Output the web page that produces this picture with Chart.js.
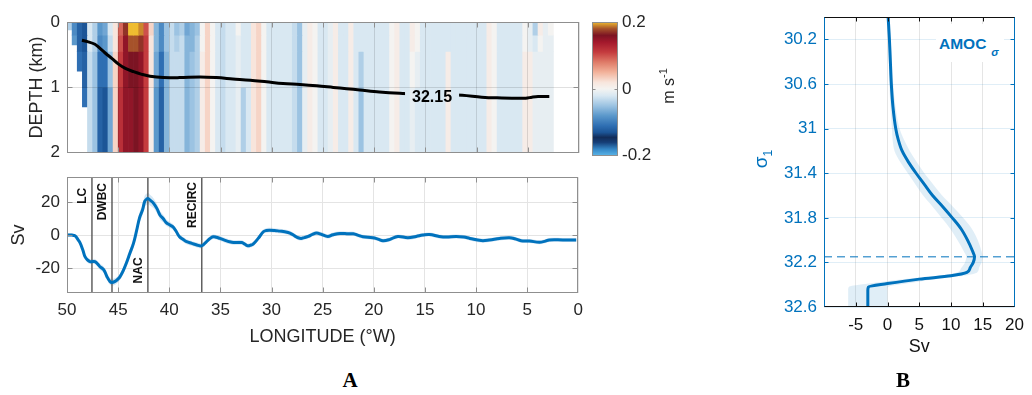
<!DOCTYPE html>
<html><head><meta charset="utf-8">
<script src="https://cdn.jsdelivr.net/npm/chart.js@4/dist/chart.umd.min.js"></script>
<style>
body{margin:0;background:#fff;width:1032px;height:395px;overflow:hidden;position:relative;font-family:'Liberation Sans',Arial,sans-serif;}
canvas{position:absolute;}
.lbl{position:absolute;white-space:nowrap;}
</style></head><body>
<canvas id="heat" width="590" height="170" style="left:0;top:0;width:590px;height:170px"></canvas>
<canvas id="cbar" width="90" height="170" style="left:585px;top:0;width:90px;height:170px"></canvas>
<canvas id="sv" width="590" height="200" style="left:0;top:160px;width:590px;height:200px"></canvas>
<canvas id="amoc" width="292" height="395" style="left:740px;top:0;width:292px;height:395px"></canvas>
<div class="lbl" style="left:639px;top:75px;width:60px;height:22px;line-height:22px;text-align:center;font-size:16px;color:#262626;transform:rotate(-90deg);">m s<span style="font-size:11px;position:relative;top:-7px;">-1</span></div>
<div class="lbl" style="left:736px;top:147px;width:50px;height:24px;line-height:24px;text-align:center;font-size:19px;color:#0072BD;transform:rotate(-90deg);">σ<span style="font-size:12px;position:relative;top:5px;">1</span></div>
<div class="lbl" style="left:936px;top:24px;width:68px;height:38px;background:#fff;">
  <span style="position:absolute;left:3px;top:12px;font-size:15.5px;line-height:15.5px;font-weight:bold;color:#0072BD;">AMOC<span style="font-size:11px;font-style:italic;position:relative;top:7px;margin-left:5px;">σ</span></span>
</div>
<div class="lbl" style="left:330px;top:370px;width:40px;text-align:center;font-family:'Liberation Serif','Times New Roman',serif;font-weight:bold;font-size:21px;line-height:21px;color:#000;">A</div>
<div class="lbl" style="left:883px;top:370px;width:40px;text-align:center;font-family:'Liberation Serif','Times New Roman',serif;font-weight:bold;font-size:21px;line-height:21px;color:#000;">B</div>
<script>
// ---------------- DATA ----------------
// Panel A (top): velocity section, m/s x100 (cm/s), 0.5 deg columns from 50W eastward
const colWidthDeg = 0.5;
const colLon = Array.from({length: 100}, (_, i) => 49.75 - colWidthDeg * i);
const depthEdges = [0, 0.2, 0.45, 1.0, 2.0];
const seafloorWest = [0.12, 0.35, 0.75, 1.3]; // bottom depth of first columns (km)
const velL0 = [-4,-9,-12,-13,-2,-4,-8,-7,-2,2, 9,17,20,20,19,10,3,-6,-9,-5, -3,-5,-4,-7,-6,-5,0,3,0,-2, -3,-2,-2,0,-2,-2,2,3,0,-2,
  -2,-2,-2,-2,-3,-5,-1,1,0,-2, -2,-1,1,-2,-2,1,-2,-2,-2,-2, -2,-2,-2,0,1,-2,-2,1,0,-2, -2,-2,-2,-2,-2,-2,-2,-2,-2,-2,
  -2,-2,1,0,-2,-2,-2,-2,-2,0, -1,-4,1,-1,0,null,null,null,null,null];
const velL1 = [-4,-8,-12,-13,-2,-4,-9,-8,-3,2, 10,15,18,18,17,11,2,-6,-9,-5, -3,-4,-3,-6,-6,-4,0,3,0,-2, -3,-2,-2,-1,-2,-2,2,3,0,-2,
  -2,-2,-2,-2,-3,-5,-1,1,0,-2, -2,-1,1,-2,-2,1,-2,-2,-2,-2, -2,-2,-2,0,1,-2,-2,1,0,-2, -2,-2,-2,-2,-2,-2,-2,-2,-2,-2,
  -2,-2,1,0,-2,-2,-2,-2,-2,0, -1,-2,0,-1,-1,null,null,null,null,null];
const velL2 = [-4,-8,-11,-12,-3,-5,-11,-11,-5,3, 11,15,16,16,15,11,2,-7,-11,-6, -3,-3,-3,-6,-5,-4,1,3,0,-2, -3,-2,-2,-1,-2,-2,2,3,0,-2,
  -2,-2,-2,-2,-3,-5,-1,1,0,-2, -2,-1,1,-2,-2,1,-2,-4,-2,-2, -2,-2,-2,0,1,-2,-2,0,-1,-2, -2,-2,-2,-2,1,-2,-2,-2,-2,-2,
  -2,-2,1,0,-2,-2,-2,-2,-2,1, 1,-1,-1,-1,-1,null,null,null,null,null];
const velL3 = [-4,-8,-10,-11,-3,-5,-12,-13,-7,3, 12,15,15,16,15,11,1,-8,-12,-6, -3,-3,-3,-6,-5,-4,1,3,0,-2, -3,-2,-2,-1,-4,-2,2,3,0,-2,
  -2,-2,-2,-2,-3,-5,-1,1,0,-2, -2,-1,1,-2,-2,1,-2,-5,-2,-2, -2,-2,-2,0,1,-2,-2,-1,-2,-2, -2,-2,-2,-2,1,-2,-2,-2,-2,-2,
  -2,-2,1,0,-2,-2,-2,-2,-2,1, 1,-1,-1,-1,-1,null,null,null,null,null];
const velLayers = [velL0, velL1, velL2, velL3];
// isopycnal 32.15 contour
const contourLon   = [48.54,48.0,47.27,46.8,46.3,45.6,45.0,44.3,43.5,42.7,41.9,40.6,39.0,37.0,35.4,33.8,32.1,30.5,28.9,27.25,25.6,24.0,22.7,21.4,19.5,17.5,15.6,13.2,11.4,9.5,8.0,5.2,4.6,4.0,2.9];
const contourDepth = [0.28,0.30,0.34,0.40,0.47,0.56,0.64,0.71,0.76,0.80,0.83,0.85,0.85,0.84,0.85,0.87,0.89,0.915,0.94,0.955,0.975,1.0,1.02,1.04,1.07,1.09,1.10,1.11,1.12,1.15,1.16,1.165,1.15,1.14,1.14];
const contourLabel = {text: '32.15', lon: 14.35, depth: 1.15};
const depthTicks = [0, 1, 2];
const lonTicks = [50,45,40,35,30,25,20,15,10,5,0];
const cbarTicks = [-0.2, 0, 0.2];

// Panel A (bottom): transport
const lonSv = [50,49.5,49.2,48.9,48.7,48.45,48.24,48.0,47.75,47.5, 47.27,47.0,46.8,46.4,46.1,45.8,45.6,45.3,45.0,44.8,
  44.5,44.2,43.85,43.5,43.2,42.9,42.6,42.4,42.2,42.06, 41.85,41.57,41.2,40.9,40.6,40.3,39.9,39.6,39.3,39.0,
  38.6,38.3,37.8,37.3,36.85,36.6,36.36,36.0,35.7,35.4, 35.06,34.6,34.1,33.7,33.4,32.9,32.6,32.3,32.0,31.8,
  31.3,30.8,30.5,30.2,29.7,29.2,28.7,28.2,27.7,27.4, 27.1,26.8,26.4,26.0,25.6,25.1,24.5,24.0,23.3,22.5,
  22.0,21.5,21.06,20.1,19.6,19.1,18.46,17.65,16.67,15.85, 15.2,14.55,13.6,12.9,11.95,11.2,10.6,9.5,8.7,7.7,
  6.74,6.2,5.6,4.78,3.8,3.3,2.83,1.5,0.2];
const svMean = [0,0,-0.5,-3,-5,-9,-13,-15,-16,-16, -16,-17.5,-19,-21,-25,-28,-28.6,-28,-26.5,-25,
  -21.5,-17,-11,-5,2.5,10.6,15.5,20.4,21.8,22, 21,19.5,16,12,10,7.6,6,4.7,2,-1,
  -2.8,-4,-5,-6,-6.5,-5.5,-4,-2,-1,-1.3, -2,-3,-4,-4.5,-4.5,-4.5,-5.5,-6.5,-6,-5.5,
  -2,2,2.8,3,2.8,2.4,2,1.2,-0.6,-1.6, -2,-1.5,-0.8,0.4,1.2,0.4,-0.8,0.2,1,0.8,
  0.8,-0.2,-1,-1.6,-2.4,-3.4,-2.7,-0.8,-1.6,-0.8, 0,0.4,-0.8,-1.2,-0.8,-1.2,-2,-3.3,-3,-2,
  -1.6,-2.2,-3.4,-3.6,-4.3,-3.8,-2.9,-2.9,-2.9];
const svErr = [1,1,1,1.2,1.2,1.3,1.4,1.5,1.5,1.5, 1.6,1.7,1.8,1.9,2,2,2,2,2,2,
  2.2,2.4,2.6,2.8,3,3.2,3.3,3.4,3.4,3.4, 3.2,3,2.8,2.5,2.3,2,1.8,1.7,1.6,1.5,
  1.5,1.5,1.5,1.5,1.5,1.5,1.4,1.4,1.4,1.4, 1.4,1.4,1.4,1.4,1.4,1.4,1.4,1.4,1.4,1.4,
  1.4,1.4,1.4,1.4,1.4,1.4,1.4,1.4,1.3,1.3, 1.3,1.3,1.3,1.3,1.3,1.3,1.3,1.3,1.3,1.3,
  1.2,1.2,1.2,1.2,1.2,1.2,1.2,1.2,1.2,1.2, 1.2,1.2,1.2,1.2,1.2,1.2,1.2,1.2,1.2,1.2,
  1.2,1.2,1.2,1.2,1.2,1.2,1.2,1.2,1.2];
const svTicks = [-20, 0, 20];
const regionNames = ['LC', 'DWBC', 'NAC', 'RECIRC'];
const regionLon = [47.56, 45.6, 42.09, 36.82];
const regionLabelSv = [28.6, 31.5, -29.2, 32.1];
const regionLabelEnd = ['top', 'top', 'bottom', 'top'];

// Panel B: AMOC in density space
const sigmaAmoc = [30.0,30.2,30.4,30.6,30.8,31.0,31.1,31.2,31.3,31.4,31.5,31.6,31.7,31.8,31.9,32.0,32.1,32.15,32.2,32.25,32.29,32.32,32.35,32.39,32.42,32.45,32.6];
const amocSv    = [0.1,0.3,0.45,0.6,0.85,1.3,1.7,2.3,3.3,4.5,5.8,7.1,8.7,10.2,11.6,12.6,13.4,13.7,13.5,13.0,12.5,10.0,5.0,0.0,-3.0,-3.1,-3.1];
const amocErr   = [0.2,0.2,0.25,0.3,0.4,0.6,0.9,1.2,1.3,1.3,1.4,1.5,1.6,1.7,1.7,1.6,1.4,1.3,1.3,1.4,1.6,2.0,2.5,3.0,3.1,3.1,3.1];
const sigmaMaxOverturning = 32.15;
const sigmaTicks = [30.2, 30.6, 31, 31.4, 31.8, 32.2, 32.6];
const amocTicks = [-5, 0, 5, 10, 15, 20];

// ---------------- STYLE ----------------
const BLUE = '#0072BD';
const GRAY = '#8f8f8f';
const cmapStops = [
 [-0.20,'#5cb6e8'],[-0.18,'#3486c6'],[-0.16,'#163f78'],[-0.145,'#122c58'],[-0.13,'#1c5597'],
 [-0.11,'#2f6fb3'],[-0.08,'#5b98cb'],[-0.05,'#9cc3e2'],[-0.02,'#d9e8f2'],[0,'#f4f3f1'],
 [0.02,'#f8e5dc'],[0.05,'#f2b29a'],[0.08,'#df7b68'],[0.11,'#c43b3e'],[0.14,'#a3182c'],
 [0.16,'#7c1423'],[0.18,'#a6522a'],[0.20,'#efbc30']];
function hex(c){return [parseInt(c.slice(1,3),16),parseInt(c.slice(3,5),16),parseInt(c.slice(5,7),16)];}
function cmap(v){
  if (v <= cmapStops[0][0]) return cmapStops[0][1];
  for (let k = 1; k < cmapStops.length; k++) {
    if (v <= cmapStops[k][0]) {
      const [v0,c0] = cmapStops[k-1], [v1,c1] = cmapStops[k];
      const t = (v - v0) / (v1 - v0), a = hex(c0), b = hex(c1);
      return 'rgb(' + a.map((x,j)=>Math.round(x + (b[j]-x)*t)).join(',') + ')';
    }
  }
  return cmapStops[cmapStops.length-1][1];
}
const fmt = v => String(+Number(v).toFixed(3));
const setTicks = arr => s => { s.ticks = arr.map(v => ({value: v})); };

Chart.defaults.font.family = "'Liberation Sans', Arial, Helvetica, sans-serif";
Chart.defaults.color = '#262626';

const boxPlugin = {
  id: 'boxTicks',
  afterDraw(chart, args, o) {
    if (!o || !o.enabled) return;
    const {ctx, chartArea: a} = chart;
    const xs = chart.scales.x, ys = chart.scales.y, c = o.colors, L = o.len;
    const r = v => Math.round(v) + 0.5;
    ctx.save(); ctx.lineWidth = 1;
    const seg = (col, x1, y1, x2, y2) => { ctx.strokeStyle = col; ctx.beginPath(); ctx.moveTo(x1, y1); ctx.lineTo(x2, y2); ctx.stroke(); };
    const L0 = Math.round(a.left) + 0.5, R0 = Math.round(a.right) - 0.5, T0 = Math.round(a.top) + 0.5, B0 = Math.round(a.bottom) - 0.5;
    if (o.xTicks !== false && xs) xs.ticks.forEach(t => { const p = r(xs.getPixelForValue(t.value)); if (p <= L0 + 1 || p >= R0 - 1) return; seg(c.bottom, p, B0, p, B0 - L); seg(c.top, p, T0, p, T0 + L); });
    if (ys) ys.ticks.forEach(t => { const p = r(ys.getPixelForValue(t.value)); if (p <= T0 + 1 || p >= B0 - 1) return; seg(c.left, L0, p, L0 + L, p); seg(c.right, R0, p, R0 - L, p); });
    seg(c.top, L0 - 0.5, T0, R0 + 0.5, T0); seg(c.bottom, L0 - 0.5, B0, R0 + 0.5, B0);
    seg(c.left, L0, T0, L0, B0); seg(c.right, R0, T0, R0, B0);
    ctx.restore();
  }
};
const regionLabelPlugin = {
  id: 'regionLabels',
  afterDatasetsDraw(chart, args, o) {
    if (!o || !o.items) return;
    const {ctx} = chart, xs = chart.scales.x, ys = chart.scales.y;
    ctx.save();
    ctx.font = 'bold 12px "Liberation Sans", Arial, sans-serif';
    ctx.fillStyle = '#111'; ctx.textBaseline = 'middle';
    o.items.forEach(it => {
      ctx.save();
      ctx.translate(xs.getPixelForValue(it.lon) - o.offset, ys.getPixelForValue(it.sv));
      ctx.rotate(-Math.PI / 2);
      ctx.textAlign = it.end === 'top' ? 'right' : 'left';
      ctx.fillText(it.text, 0, 0);
      ctx.restore();
    });
    ctx.restore();
  }
};
const contourLabelPlugin = {
  id: 'contourLabel',
  _rect(chart, o) {
    const {ctx} = chart;
    ctx.save(); ctx.font = o.font; const w = ctx.measureText(o.text).width; ctx.restore();
    const x = chart.scales.x.getPixelForValue(o.lon), y = chart.scales.y.getPixelForValue(o.depth);
    return {x, y, w};
  },
  beforeDatasetDraw(chart, args, o) {
    if (!o || !o.text || !chart.data.datasets[args.index].contour) return;
    const {x, y, w} = this._rect(chart, o);
    const ctx = chart.ctx;
    ctx.save(); ctx.beginPath();
    ctx.rect(0, 0, chart.width, chart.height);
    ctx.rect(x - w / 2 - 7, y - 14, w + 14, 28);
    ctx.clip('evenodd');
  },
  afterDatasetDraw(chart, args, o) {
    if (!o || !o.text || !chart.data.datasets[args.index].contour) return;
    chart.ctx.restore();
  },
  afterDatasetsDraw(chart, args, o) {
    if (!o || !o.text) return;
    const {x, y} = this._rect(chart, o);
    const ctx = chart.ctx;
    ctx.save(); ctx.font = o.font; ctx.fillStyle = '#000'; ctx.textAlign = 'center'; ctx.textBaseline = 'middle';
    ctx.fillText(o.text, x, y); ctx.restore();
  }
};
Chart.register(boxPlugin, regionLabelPlugin, contourLabelPlugin);

const common = {responsive: false, animation: false, devicePixelRatio: 1, events: []};
const noLegend = {legend: {display: false}, tooltip: {enabled: false}};

// ---------------- PANEL A top: heat map ----------------
const heatDatasets = velLayers.map((layer, L) => {
  const data = [], colors = [];
  colLon.forEach((lon, i) => {
    const v = layer[i];
    if (v === null || v === undefined) return;
    const floor = i < seafloorWest.length ? seafloorWest[i] : depthEdges[depthEdges.length - 1];
    const top = depthEdges[L], bot = Math.min(depthEdges[L + 1], floor);
    if (bot <= top) return;
    data.push({x: lon, y: [top, bot]});
    colors.push(cmap(v / 100));
  });
  return {type: 'bar', data, backgroundColor: colors, borderWidth: 0, grouped: false, barPercentage: 1, categoryPercentage: 1, order: 2};
});
const contourDataset = {type: 'line', contour: true, data: contourLon.map((x, i) => ({x, y: contourDepth[i]})),
  borderColor: '#000', borderWidth: 3, pointRadius: 0, tension: 0.35, fill: false, order: 0};

new Chart(document.getElementById('heat'), {
  type: 'bar',
  data: {datasets: [...heatDatasets, contourDataset]},
  options: {...common,
    layout: {padding: {left: 0, top: 22, right: 11, bottom: 0}},
    plugins: {...noLegend,
      boxTicks: {enabled: true, len: 5, colors: {top: GRAY, bottom: GRAY, left: GRAY, right: GRAY}},
      contourLabel: {text: contourLabel.text, lon: contourLabel.lon, depth: contourLabel.depth, font: 'bold 16px "Liberation Sans", Arial, sans-serif'}},
    scales: {
      x: {type: 'linear', min: 0, max: 50, reverse: true, offset: false, afterBuildTicks: setTicks(lonTicks),
        ticks: {display: false}, grid: {offset: false, color: 'rgba(0,0,0,0.12)', z: 1, drawTicks: false}, border: {display: false},
        afterFit: s => { s.height = 14; }},
      y: {type: 'linear', min: 0, max: 2, reverse: true, afterBuildTicks: setTicks(depthTicks),
        ticks: {font: {size: 17}, padding: 7, callback: fmt},
        grid: {color: 'rgba(0,0,0,0.12)', z: 1, drawTicks: false}, border: {display: false},
        title: {display: true, text: 'DEPTH (km)', font: {size: 18}, padding: {top: 26, bottom: 0}},
        afterFit: s => { s.width = 67; }}
    }
  }
});

// colorbar
new Chart(document.getElementById('cbar'), {
  type: 'bar',
  data: {labels: ['v'], datasets: [{data: [[cbarTicks[0], cbarTicks[cbarTicks.length - 1]]], borderWidth: 0, barPercentage: 1, categoryPercentage: 1,
    backgroundColor: c => {
      const ch = c.chart; if (!ch.chartArea) return '#ccc';
      const ys = ch.scales.y, hi = ys.max, lo = ys.min;
      const g = ch.ctx.createLinearGradient(0, ys.getPixelForValue(hi), 0, ys.getPixelForValue(lo));
      cmapStops.forEach(([v, col]) => g.addColorStop((hi - v) / (hi - lo), col));
      return g;
    }}]},
  options: {...common,
    layout: {padding: {left: 7, top: 22, right: 0, bottom: 13}},
    plugins: {...noLegend, boxTicks: {enabled: true, len: 3, xTicks: false, colors: {top: GRAY, bottom: GRAY, left: GRAY, right: GRAY}}},
    scales: {
      x: {display: false},
      y: {position: 'right', min: -0.2, max: 0.2, afterBuildTicks: setTicks(cbarTicks),
        ticks: {font: {size: 17}, padding: 4, callback: fmt}, grid: {display: false, drawTicks: false}, border: {display: false},
        afterFit: s => { s.width = 57; }}
    }
  }
});

// ---------------- PANEL A bottom: transport ----------------
const svDatasets = [
  {data: lonSv.map((x, i) => ({x, y: svMean[i] - svErr[i]})), borderWidth: 0, pointRadius: 0, fill: false, tension: 0.4, order: 3},
  {data: lonSv.map((x, i) => ({x, y: svMean[i] + svErr[i]})), borderWidth: 0, pointRadius: 0, fill: '-1', backgroundColor: 'rgba(0,114,189,0.17)', tension: 0.4, order: 3},
  ...regionLon.map(lon => ({data: [{x: lon, y: -35}, {x: lon, y: 35}], borderColor: '#555', borderWidth: 1.4, pointRadius: 0, fill: false, order: 1})),
  {data: lonSv.map((x, i) => ({x, y: svMean[i]})), borderColor: BLUE, borderWidth: 3, pointRadius: 0, fill: false, tension: 0.4, order: 0}
];
new Chart(document.getElementById('sv'), {
  type: 'line',
  data: {datasets: svDatasets},
  options: {...common,
    layout: {padding: {left: 0, top: 13, right: 11, bottom: 0}},
    plugins: {...noLegend,
      boxTicks: {enabled: true, len: 5, colors: {top: GRAY, bottom: GRAY, left: GRAY, right: GRAY}},
      regionLabels: {offset: 9.5, items: regionNames.map((t, i) => ({text: t, lon: regionLon[i], sv: regionLabelSv[i], end: regionLabelEnd[i]}))}},
    scales: {
      x: {type: 'linear', min: 0, max: 50, reverse: true, afterBuildTicks: setTicks(lonTicks),
        ticks: {font: {size: 17}, padding: 7, callback: fmt, maxRotation: 0, autoSkip: false},
        grid: {color: '#e4e4e4', drawTicks: false}, border: {display: false},
        title: {display: true, text: 'LONGITUDE (°W)', font: {size: 18}, padding: {top: 0, bottom: 12}},
        afterFit: s => { s.height = 67; }},
      y: {type: 'linear', min: -35, max: 35, afterBuildTicks: setTicks(svTicks),
        ticks: {font: {size: 17}, padding: 7, callback: fmt},
        grid: {color: '#e4e4e4', drawTicks: false}, border: {display: false},
        title: {display: true, text: 'Sv', font: {size: 18}, padding: {top: 8, bottom: 0}},
        afterFit: s => { s.width = 67; }}
    }
  }
});

// ---------------- PANEL B: AMOC sigma ----------------
const amocDatasets = [
  {data: sigmaAmoc.map((y, i) => ({x: amocSv[i] - amocErr[i], y})), borderWidth: 0, pointRadius: 0, fill: false, cubicInterpolationMode: 'monotone', order: 3},
  {data: sigmaAmoc.map((y, i) => ({x: amocSv[i] + amocErr[i], y})), borderWidth: 0, pointRadius: 0, fill: '-1', backgroundColor: 'rgba(0,114,189,0.12)', cubicInterpolationMode: 'monotone', order: 3},
  {data: [{x: -10, y: sigmaMaxOverturning}, {x: 20, y: sigmaMaxOverturning}], borderColor: BLUE, borderWidth: 1, borderDash: [8, 5], pointRadius: 0, fill: false, order: 1},
  {data: sigmaAmoc.map((y, i) => ({x: amocSv[i], y})), borderColor: BLUE, borderWidth: 3, pointRadius: 0, fill: false, cubicInterpolationMode: 'monotone', order: 0}
];
new Chart(document.getElementById('amoc'), {
  type: 'line',
  data: {datasets: amocDatasets},
  options: {...common, indexAxis: 'y',
    layout: {padding: {left: 0, top: 11, right: 11, bottom: 0}},
    plugins: {...noLegend, boxTicks: {enabled: true, len: 4, colors: {top: '#111', bottom: '#111', left: BLUE, right: BLUE}}},
    scales: {
      x: {type: 'linear', min: -10, max: 20, afterBuildTicks: setTicks(amocTicks),
        ticks: {font: {size: 17}, padding: 8, color: '#111', callback: fmt, maxRotation: 0, autoSkip: false},
        grid: {color: 'rgba(0,0,0,0.1)', drawTicks: false}, border: {display: false},
        title: {display: true, text: 'Sv', font: {size: 18}, color: '#111', padding: {top: 0, bottom: 37}},
        afterFit: s => { s.height = 88; }},
      y: {type: 'linear', min: 30, max: 32.6, reverse: true, afterBuildTicks: setTicks(sigmaTicks),
        ticks: {font: {size: 17}, padding: 7, color: BLUE, callback: fmt},
        grid: {color: 'rgba(0,114,189,0.12)', drawTicks: false}, border: {display: false},
        afterFit: s => { s.width = 84; }}
    }
  }
});
</script>
</body></html>
